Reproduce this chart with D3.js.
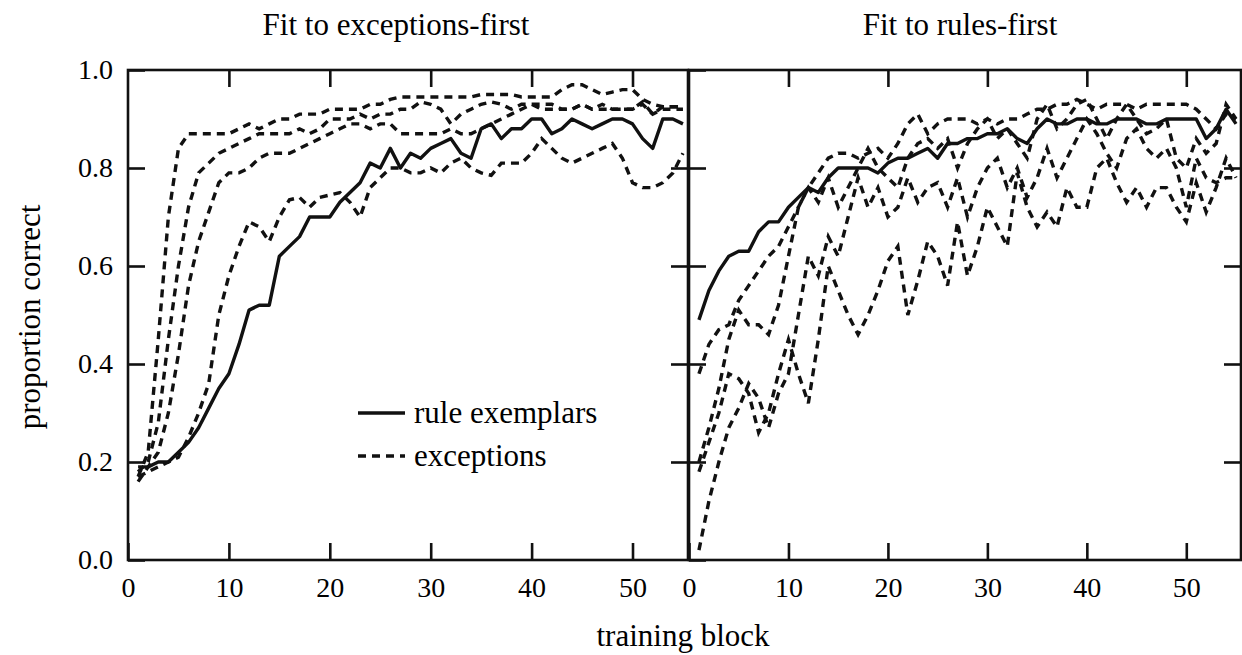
<!DOCTYPE html>
<html>
<head>
<meta charset="utf-8">
<script src="https://cdnjs.cloudflare.com/ajax/libs/d3/7.8.5/d3.min.js"></script>
<style>
    body { margin: 0; background: #fff; }
    svg text { font-family: "Liberation Serif", "Times New Roman", serif; fill: #000; }
</style>
</head>
<body>
<div id="chart"></div>
<script>
// training blocks 1..55
const blocks = d3.range(1, 56);
const xTickValues = [0, 10, 20, 30, 40, 50];
const yTickValues = [0, 0.2, 0.4, 0.6, 0.8, 1.0];
const panelTitles = ['Fit to exceptions-first', 'Fit to rules-first'];
const legendLabels = ['rule exemplars', 'exceptions'];

// Fit to exceptions-first
const exFirstRule = [0.19,0.19,0.2,0.2,0.22,0.24,0.27,0.31,0.35,0.38,0.44,0.51,0.52,0.52,0.62,0.64,0.66,0.7,0.7,0.7,
    0.73,0.75,0.77,0.81,0.8,0.84,0.8,0.83,0.82,0.84,0.85,0.86,0.83,0.82,0.88,0.89,0.86,0.88,0.88,0.9,
    0.9,0.87,0.88,0.9,0.89,0.88,0.89,0.9,0.9,0.89,0.86,0.84,0.9,0.9,0.89];
const exFirstExcA = [0.17,0.22,0.45,0.7,0.84,0.87,0.87,0.87,0.87,0.87,0.88,0.89,0.88,0.89,0.9,0.9,0.91,0.91,0.91,0.92,
    0.92,0.92,0.92,0.93,0.93,0.94,0.945,0.945,0.945,0.945,0.945,0.945,0.945,0.945,0.95,0.95,0.95,0.95,0.945,0.945,
    0.945,0.945,0.96,0.97,0.97,0.96,0.95,0.955,0.96,0.96,0.94,0.93,0.925,0.925,0.925];
const exFirstExcB = [0.18,0.2,0.28,0.45,0.6,0.72,0.79,0.81,0.83,0.84,0.85,0.86,0.87,0.87,0.87,0.87,0.88,0.87,0.88,0.9,
    0.9,0.9,0.91,0.9,0.91,0.91,0.92,0.92,0.935,0.93,0.92,0.89,0.91,0.92,0.93,0.935,0.93,0.92,0.93,0.93,
    0.93,0.93,0.92,0.92,0.93,0.92,0.93,0.92,0.92,0.92,0.935,0.91,0.925,0.925,0.925];
const exFirstExcC = [0.16,0.19,0.22,0.3,0.42,0.56,0.65,0.71,0.77,0.79,0.79,0.8,0.82,0.83,0.83,0.83,0.84,0.85,0.86,0.87,
    0.88,0.89,0.89,0.88,0.89,0.89,0.87,0.87,0.87,0.87,0.87,0.88,0.87,0.87,0.88,0.89,0.9,0.91,0.92,0.93,
    0.92,0.92,0.92,0.92,0.93,0.92,0.92,0.92,0.92,0.92,0.93,0.91,0.92,0.92,0.92];
const exFirstExcD = [0.17,0.18,0.19,0.2,0.21,0.25,0.3,0.36,0.5,0.58,0.64,0.69,0.68,0.65,0.7,0.735,0.74,0.72,0.74,0.745,
    0.75,0.73,0.7,0.76,0.78,0.8,0.8,0.79,0.79,0.8,0.79,0.81,0.82,0.8,0.79,0.785,0.81,0.81,0.81,0.83,
    0.86,0.84,0.82,0.81,0.82,0.83,0.84,0.85,0.82,0.77,0.76,0.76,0.77,0.79,0.83];

// Fit to rules-first
const ruFirstRule = [0.49,0.55,0.59,0.62,0.63,0.63,0.67,0.69,0.69,0.72,0.74,0.76,0.75,0.78,0.8,0.8,0.8,0.8,0.79,0.81,
    0.82,0.82,0.83,0.84,0.82,0.85,0.85,0.86,0.86,0.87,0.87,0.88,0.86,0.85,0.88,0.9,0.89,0.89,0.9,0.9,
    0.89,0.89,0.9,0.9,0.9,0.89,0.89,0.9,0.9,0.9,0.9,0.86,0.88,0.92,0.89];
const ruFirstExcA = [0.38,0.44,0.47,0.48,0.53,0.56,0.59,0.62,0.64,0.68,0.72,0.76,0.79,0.82,0.83,0.83,0.82,0.83,0.84,0.82,
    0.85,0.89,0.91,0.87,0.89,0.9,0.9,0.9,0.89,0.9,0.89,0.9,0.9,0.91,0.92,0.92,0.93,0.93,0.94,0.93,
    0.92,0.93,0.93,0.93,0.92,0.93,0.93,0.93,0.93,0.93,0.92,0.9,0.88,0.91,0.9];
const ruFirstExcB = [0.2,0.27,0.35,0.45,0.51,0.48,0.48,0.46,0.52,0.62,0.72,0.76,0.73,0.78,0.72,0.76,0.8,0.84,0.8,0.78,
    0.76,0.82,0.85,0.86,0.84,0.86,0.8,0.85,0.88,0.9,0.86,0.88,0.85,0.82,0.9,0.93,0.88,0.9,0.93,0.94,
    0.9,0.86,0.9,0.93,0.9,0.87,0.88,0.9,0.82,0.8,0.86,0.83,0.85,0.93,0.9];
const ruFirstExcC = [0.02,0.12,0.2,0.27,0.31,0.36,0.33,0.27,0.34,0.38,0.5,0.62,0.58,0.66,0.62,0.7,0.78,0.72,0.76,0.7,
    0.72,0.78,0.73,0.76,0.77,0.72,0.78,0.7,0.76,0.8,0.82,0.76,0.8,0.74,0.78,0.84,0.78,0.82,0.86,0.9,
    0.87,0.83,0.8,0.86,0.88,0.84,0.82,0.84,0.8,0.72,0.82,0.78,0.77,0.78,0.78];
const ruFirstExcD = [0.18,0.24,0.3,0.38,0.37,0.34,0.26,0.3,0.38,0.45,0.38,0.32,0.45,0.6,0.55,0.5,0.46,0.5,0.55,0.61,
    0.64,0.5,0.57,0.65,0.62,0.56,0.69,0.58,0.64,0.72,0.68,0.64,0.79,0.72,0.68,0.71,0.68,0.76,0.72,0.72,
    0.8,0.82,0.77,0.73,0.76,0.72,0.76,0.76,0.72,0.69,0.77,0.71,0.76,0.82,0.78];

(function(){
    const width = 1242;
    const height = 655;
    const plotTop = 70;
    const plotBottom = 560;
    const tickLen = 17;
    const tickFont = 28;
    const labelFont = 31;

    const panels = [
        { title: panelTitles[0], left: 128, right: 688, rule: exFirstRule,
          exc: [exFirstExcA, exFirstExcB, exFirstExcC, exFirstExcD] },
        { title: panelTitles[1], left: 689, right: 1241, rule: ruFirstRule,
          exc: [ruFirstExcA, ruFirstExcB, ruFirstExcC, ruFirstExcD] }
    ];

    const svg = d3.select('#chart')
        .append('svg')
            .attr('width', width)
            .attr('height', height);

    const yScale = d3.scaleLinear()
        .domain([0, 1])
        .range([plotBottom, plotTop]);

    panels.forEach((p, i) => {
        const xScale = d3.scaleLinear()
            .domain([0, 55.5])
            .range([p.left, p.right]);

        const g = svg.append('g');

        const line = d3.line()
            .x((d, j) => xScale(blocks[j]))
            .y(d => yScale(d));

        // exceptions (dashed)
        p.exc.forEach(series => {
            g.append('path')
                .datum(series)
                .attr('d', line)
                .style('fill', 'none')
                .style('stroke', '#111')
                .style('stroke-width', 3.4)
                .style('stroke-dasharray', '8,6');
        });

        // rule exemplars (solid)
        g.append('path')
            .datum(p.rule)
            .attr('d', line)
            .style('fill', 'none')
            .style('stroke', '#111')
            .style('stroke-width', 3.4)
            .style('stroke-linejoin', 'round');

        // bottom axis with labels
        const bottom = g.append('g')
            .attr('transform', `translate(0, ${plotBottom})`)
            .call(d3.axisBottom(xScale).tickValues(xTickValues).tickSize(-tickLen).tickPadding(17));
        // top axis, ticks only
        const top = g.append('g')
            .attr('transform', `translate(0, ${plotTop})`)
            .call(d3.axisTop(xScale).tickValues(xTickValues.slice(1)).tickSize(-tickLen).tickFormat(''));
        // left axis
        const left = g.append('g')
            .attr('transform', `translate(${p.left}, 0)`)
            .call(d3.axisLeft(yScale).tickValues(yTickValues).tickSize(-tickLen).tickPadding(15)
                .tickFormat(i === 0 ? d3.format('.1f') : ''));
        // right axis, ticks only
        const right = g.append('g')
            .attr('transform', `translate(${p.right}, 0)`)
            .call(d3.axisRight(yScale).tickValues(yTickValues.slice(1, 5)).tickSize(-tickLen).tickFormat(''));

        [bottom, top, left, right].forEach(a => {
            a.select('.domain').remove();
            a.selectAll('line').style('stroke', '#111').style('stroke-width', 2.6);
            a.selectAll('text')
                .attr('font-size', tickFont)
                .style('font-family', '"Liberation Serif", serif')
                .style('fill', '#000');
        });

        // frame
        g.append('rect')
            .attr('x', p.left)
            .attr('y', plotTop)
            .attr('width', p.right - p.left)
            .attr('height', plotBottom - plotTop)
            .style('fill', 'none')
            .style('stroke', '#111')
            .style('stroke-width', 2.6);

        g.append('text')
            .attr('x', i === 0 ? 396 : 960)
            .attr('y', 35)
            .attr('text-anchor', 'middle')
            .attr('font-size', labelFont)
            .text(p.title);
    });

    // axis titles
    svg.append('text')
        .attr('x', 683)
        .attr('y', 646)
        .attr('text-anchor', 'middle')
        .attr('font-size', labelFont)
        .text('training block');

    svg.append('text')
        .attr('transform', 'translate(40, 317) rotate(-90)')
        .attr('text-anchor', 'middle')
        .attr('font-size', labelFont)
        .text('proportion correct');

    // legend
    const legend = svg.append('g');
    [0, 1].forEach(k => {
        const y = 413 + k * 43;
        legend.append('line')
            .attr('x1', 358).attr('x2', 405)
            .attr('y1', y).attr('y2', y)
            .style('stroke', '#111')
            .style('stroke-width', 3.4)
            .style('stroke-dasharray', k === 0 ? null : '8,6');
        legend.append('text')
            .attr('x', 414)
            .attr('y', y)
            .attr('dy', '0.32em')
            .attr('font-size', labelFont)
            .text(legendLabels[k]);
    });
}())
</script>
</body>
</html>
